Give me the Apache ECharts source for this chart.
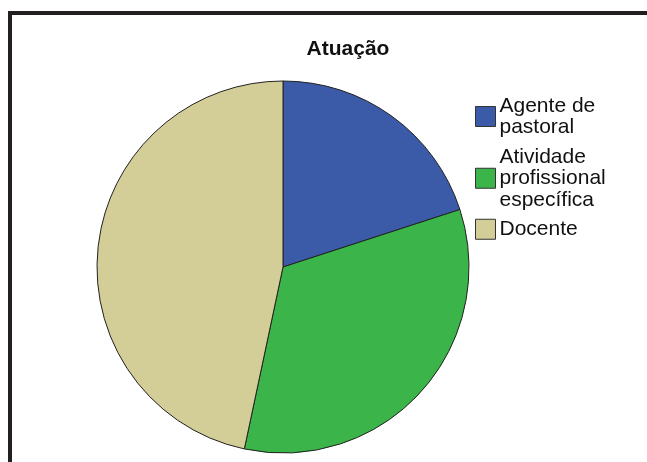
<!DOCTYPE html>
<html>
<head>
<meta charset="utf-8">
<script src="https://cdn.jsdelivr.net/npm/echarts@6/dist/echarts.min.js"></script>
<style>html,body{margin:0;padding:0;background:#fff}#c{width:647px;height:462px}</style>
</head>
<body>
<div id="c"></div>
<script>
const title = 'Atuação';
const categories = ['Agente de\npastoral', 'Atividade\nprofissional\nespecífica', 'Docente'];
const values = [3, 5, 7];
const colors = ['#3B5BA8', '#3BB54A', '#D3CD98'];

const chart = echarts.init(document.getElementById('c'));
chart.setOption({
  animation: false,
  backgroundColor: '#fff',
  title: {
    text: title, left: 348, top: 39, textAlign: 'center', padding: 0,
    textStyle: {fontFamily: 'Liberation Sans', fontWeight: 'bold', fontSize: 21, color: '#111'}
  },
  legend: {
    orient: 'vertical', left: 475, top: 95, itemWidth: 20, itemHeight: 20, itemGap: 8,
    padding: 0,
    icon: 'rect',
    data: categories,
    itemStyle: {borderColor: '#333', borderWidth: 1},
    textStyle: {fontFamily: 'Liberation Sans', fontSize: 21, lineHeight: 21.5, color: '#111', padding: [0,0,0,-1]}
  },
  graphic: [{
    type: 'polyline', silent: true,
    shape: {points: [[10, 470], [10, 13], [660, 13]]},
    style: {stroke: '#231f20', lineWidth: 4, fill: null}
  }],
  series: [{
    type: 'pie', center: [283, 267], radius: 186, startAngle: 90, clockwise: true,
    label: {show: false}, labelLine: {show: false},
    itemStyle: {borderColor: '#222', borderWidth: 1},
    emphasis: {disabled: true},
    data: categories.map((n, i) => ({name: n, value: values[i], itemStyle: {color: colors[i]}}))
  }]
});
</script>
</body>
</html>
